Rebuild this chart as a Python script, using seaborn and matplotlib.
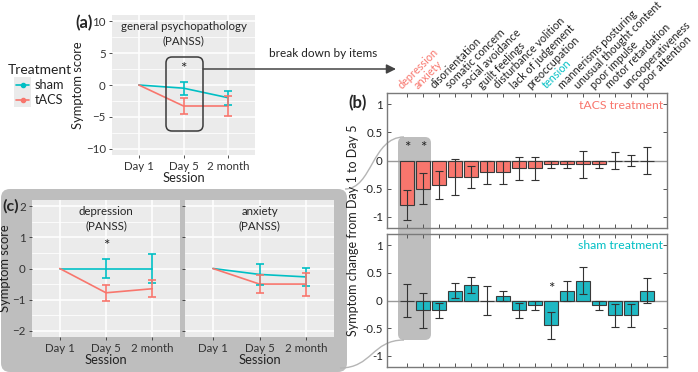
import numpy as np
import pandas as pd
import matplotlib
matplotlib.use('Agg')
import matplotlib.pyplot as plt
import seaborn as sns
from matplotlib.patches import FancyBboxPatch, PathPatch, Rectangle
from matplotlib.path import Path
from matplotlib.ticker import FixedLocator

# ---------------- data ----------------
sessions = ['Day 1', 'Day 5', '2 month']
treatments = ['sham', 'tACS']

gp_sham = [0, -0.5, -2.0]
gp_sham_err = [0, 1.0, 1.1]
gp_tacs = [0, -3.3, -3.3]
gp_tacs_err = [0, 1.3, 1.6]

dep_sham = [0, 0.0, 0.0]
dep_sham_err = [0, 0.3, 0.45]
dep_tacs = [0, -0.78, -0.65]
dep_tacs_err = [0, 0.25, 0.27]

anx_sham = [0, -0.19, -0.27]
anx_sham_err = [0, 0.33, 0.30]
anx_tacs = [0, -0.50, -0.50]
anx_tacs_err = [0, 0.28, 0.37]

items = ['depression', 'anxiety', 'disorientation', 'somatic concern', 'social avoidance',
         'guilt feelings', 'disturbance volition', 'lack of judgement', 'preoccupation',
         'tension', 'mannerisms posturing', 'unusual thought content', 'poor impulse',
         'motor retardation', 'uncooperativeness', 'poor attention']
tacs_change = [-0.79, -0.50, -0.43, -0.29, -0.29, -0.21, -0.21, -0.14, -0.14,
               -0.07, -0.07, -0.07, -0.07, 0.0, 0.0, 0.0]
tacs_err = [0.26, 0.28, 0.25, 0.32, 0.19, 0.21, 0.21, 0.20, 0.20,
            0.07, 0.07, 0.245, 0.07, 0.15, 0.10, 0.24]
sham_change = [0.0, -0.18, -0.18, 0.18, 0.28, 0.0, 0.09, -0.18, -0.09,
               -0.45, 0.18, 0.36, -0.09, -0.27, -0.27, 0.18]
sham_err = [0.30, 0.32, 0.13, 0.13, 0.14, 0.27, 0.09, 0.13, 0.09,
            0.25, 0.18, 0.25, 0.09, 0.20, 0.20, 0.22]

RED = '#F8766D'
CYAN = '#00BFC4'
palette = {'sham': CYAN, 'tACS': RED}

# ---------------- style ----------------
sns.set_theme(style='darkgrid', rc={'axes.facecolor': '#EBEBEB'})
plt.rcParams['font.family'] = ['Lato', 'DejaVu Sans']

W, H = 698, 372
fig = plt.figure(figsize=(W / 100, H / 100), dpi=100)
fig.patch.set_facecolor('white')


def rect(x0, y0, x1, y1):
    return [x0 / W, 1 - y1 / H, (x1 - x0) / W, (y1 - y0) / H]


# background overlay
bg = fig.add_axes([0, 0, 1, 1], zorder=0)
bg.set_xlim(0, W)
bg.set_ylim(H, 0)
bg.axis('off')

GREY = '#BEBEBE'
bg.add_patch(FancyBboxPatch((1, 189), 346, 183, boxstyle='round,pad=0,rounding_size=9',
                            fc=GREY, ec='none'))
bg.add_patch(FancyBboxPatch((398, 137), 33, 203, boxstyle='round,pad=0,rounding_size=6',
                            fc=GREY, ec='none'))


def bez(p0, p3, c=370):
    verts = [p0, (c, p0[1]), (c, p3[1]), p3]
    return PathPatch(Path(verts, [Path.MOVETO, Path.CURVE4, Path.CURVE4, Path.CURVE4]),
                     fc='none', ec='#B5B5B5', lw=1)


bg.add_patch(bez((345, 189), (404, 137), c=372))
bg.add_patch(bez((340, 368), (404, 340), c=372))


def gg_axes(ax, ylim, ymaj, ymin, ylabels=True):
    ax.set_facecolor('#EBEBEB')
    for s in ax.spines.values():
        s.set_visible(False)
    ax.set_xlim(0.4, 3.6)
    ax.set_ylim(*ylim)
    ax.xaxis.set_major_locator(FixedLocator([1, 2, 3]))
    ax.set_xticklabels(sessions)
    ax.yaxis.set_major_locator(FixedLocator(ymaj))
    ax.yaxis.set_minor_locator(FixedLocator(ymin))
    ax.grid(which='major', color='white', lw=1.1)
    ax.grid(which='minor', color='white', lw=0.55)
    ax.tick_params(which='major', bottom=True, left=True, length=2.5, width=0.6,
                   color='#333333', labelsize=8.3, labelcolor='#333333', pad=2)
    ax.tick_params(which='minor', length=0)
    if not ylabels:
        ax.set_yticklabels([])
    ax.set_xlabel('Session', fontsize=9.3, labelpad=0, color='#222222')


def draw_lines(ax, sham, sham_e, tacs, tacs_e, cap=3):
    df = pd.DataFrame({
        'pos': [1, 2, 3] * 2,
        'score': list(sham) + list(tacs),
        'Treatment': ['sham'] * 3 + ['tACS'] * 3,
    })
    sns.lineplot(data=df, x='pos', y='score', hue='Treatment', palette=palette,
                 ax=ax, legend=False, lw=1.2, errorbar=None)
    for vals, errs, col in [(sham, sham_e, CYAN), (tacs, tacs_e, RED)]:
        ax.errorbar([2, 3], vals[1:], yerr=errs[1:], fmt='none', ecolor=col,
                    elinewidth=1.2, capsize=cap, capthick=1.2, zorder=3)


# ---------------- panel (a) ----------------
axa = fig.add_axes(rect(112, 15, 255, 155), zorder=2)
draw_lines(axa, gp_sham, gp_sham_err, gp_tacs, gp_tacs_err)
gg_axes(axa, (-11, 11), [-10, -5, 0, 5, 10], [-7.5, -2.5, 2.5, 7.5])
axa.set_ylabel('Symptom score', fontsize=9.3, labelpad=1, color='#222222')
axa.text(0.5, 0.955, 'general psychopathology\n(PANSS)', transform=axa.transAxes,
         ha='center', va='top', fontsize=8.3, linespacing=1.3)
axa.text(2, 2.5, '*', ha='center', va='center', fontsize=11, color='#222222')

# ---------------- panel (c) ----------------
axd = fig.add_axes(rect(32, 200, 180, 337), zorder=2)
draw_lines(axd, dep_sham, dep_sham_err, dep_tacs, dep_tacs_err)
gg_axes(axd, (-2.2, 2.2), [-2, -1, 0, 1, 2], [-1.5, -0.5, 0.5, 1.5])
axd.set_ylabel('Symptom score', fontsize=9.3, labelpad=1, color='#222222')
axd.text(0.5, 0.955, 'depression\n(PANSS)', transform=axd.transAxes,
         ha='center', va='top', fontsize=8.3, linespacing=1.3)
axd.text(2, 0.72, '*', ha='center', va='center', fontsize=11, color='#222222')

axx = fig.add_axes(rect(185, 200, 334, 337), zorder=2)
draw_lines(axx, anx_sham, anx_sham_err, anx_tacs, anx_tacs_err)
gg_axes(axx, (-2.2, 2.2), [-2, -1, 0, 1, 2], [-1.5, -0.5, 0.5, 1.5], ylabels=False)
axx.set_ylabel('')
axx.text(0.5, 0.955, 'anxiety\n(PANSS)', transform=axx.transAxes,
         ha='center', va='top', fontsize=8.3, linespacing=1.3)

# ---------------- panel (b) ----------------
pos = np.arange(1, len(items) + 1)


def bar_axes(ax, vals, errs, col, label, lcol):
    ax.set_facecolor('none')
    df = pd.DataFrame({'pos': pos, 'val': vals})
    sns.barplot(data=df, x='pos', y='val', native_scale=True, color=col,
                width=0.82, edgecolor='#3a3a3a', linewidth=0.8, saturation=1,
                ax=ax, errorbar=None, zorder=2)
    ax.axhline(0, color='#9a9a9a', lw=1, zorder=1)
    ax.errorbar(pos, vals, yerr=errs, fmt='none', ecolor='#333333', elinewidth=0.8,
                capsize=2.8, capthick=0.8, zorder=3)
    ax.set_xlim(-0.25, 17.25)
    ax.set_ylim(-1.2, 1.2)
    ax.grid(False)
    for s in ax.spines.values():
        s.set_visible(True)
        s.set_color('#7a7a7a')
        s.set_linewidth(1)
    ax.set_xticks(pos)
    ax.set_xticklabels([])
    ax.set_yticks([-1, -0.5, 0, 0.5, 1])
    ax.set_yticklabels(['-1', '-0.5', '0', '0.5', '1'])
    ax.tick_params(axis='both', direction='in', length=3, width=0.7, color='#555555',
                   bottom=True, top=True, left=True, right=True, labelsize=8.3,
                   labelcolor='#222222', pad=3)
    ax.set_xlabel('')
    ax.set_ylabel('')
    ax.text(0.985, 0.91, label, transform=ax.transAxes, ha='right', va='center',
            fontsize=8.8, color=lcol)


axt = fig.add_axes(rect(387, 93, 667, 228), zorder=2)
bar_axes(axt, tacs_change, tacs_err, RED, 'tACS treatment', RED)
for p in [1, 2]:
    axt.text(p, 0.22, '*', ha='center', va='center', fontsize=11, color='#222222')

axb = fig.add_axes(rect(387, 234, 667, 367), zorder=2)
bar_axes(axb, sham_change, sham_err, '#1FB8C3', 'sham treatment', CYAN)
axb.text(10, 0.2, '*', ha='center', va='center', fontsize=11, color='#222222')

# item labels on top
for p, it in zip(pos, items):
    c = RED if it in ('depression', 'anxiety') else (CYAN if it == 'tension' else '#222222')
    axt.text(p - 0.2, 1.24, it, rotation=45, rotation_mode='anchor', ha='left',
             va='bottom', fontsize=7.8, color=c, clip_on=False)

fig.text(353 / W, 1 - 230 / H, 'Symptom change from Day 1 to Day 5', rotation=90,
         ha='center', va='center', fontsize=9.0, color='#222222')

# ---------------- foreground overlay ----------------
fg = fig.add_axes([0, 0, 1, 1], zorder=5)
fg.set_xlim(0, W)
fg.set_ylim(H, 0)
fg.axis('off')
fg.patch.set_alpha(0)

fg.add_patch(FancyBboxPatch((166, 57), 37, 74, boxstyle='round,pad=0,rounding_size=6',
                            fc='none', ec='#3a3a3a', lw=1.1))
fg.annotate('', xy=(396, 69), xytext=(203, 69),
            arrowprops=dict(arrowstyle='-|>', color='#444444', lw=1.1,
                            mutation_scale=14, shrinkA=0, shrinkB=0))
fg.text(323, 59, 'break down by items', ha='center', va='bottom', fontsize=8.5,
        color='#222222')

fg.text(75, 23, '(a)', ha='left', va='center', fontsize=12, fontweight='bold')
fg.text(348, 103, '(b)', ha='left', va='center', fontsize=12, fontweight='bold')
fg.text(2, 206, '(c)', ha='left', va='center', fontsize=11.5, fontweight='bold')

# legend
fg.text(8, 70, 'Treatment', ha='left', va='center', fontsize=10, color='#222222')
fg.add_patch(Rectangle((14, 77), 17, 30, fc='#EBEBEB', ec='none'))
for yy, lab, col in [(85, 'sham', CYAN), (100, 'tACS', RED)]:
    fg.plot([16, 29], [yy, yy], color=col, lw=1.2)
    fg.plot([22.5], [yy], 'o', color=col, ms=3)
    fg.text(35, yy, lab, ha='left', va='center', fontsize=9.2, color='#222222')

fig.savefig('out.png', dpi=100)
